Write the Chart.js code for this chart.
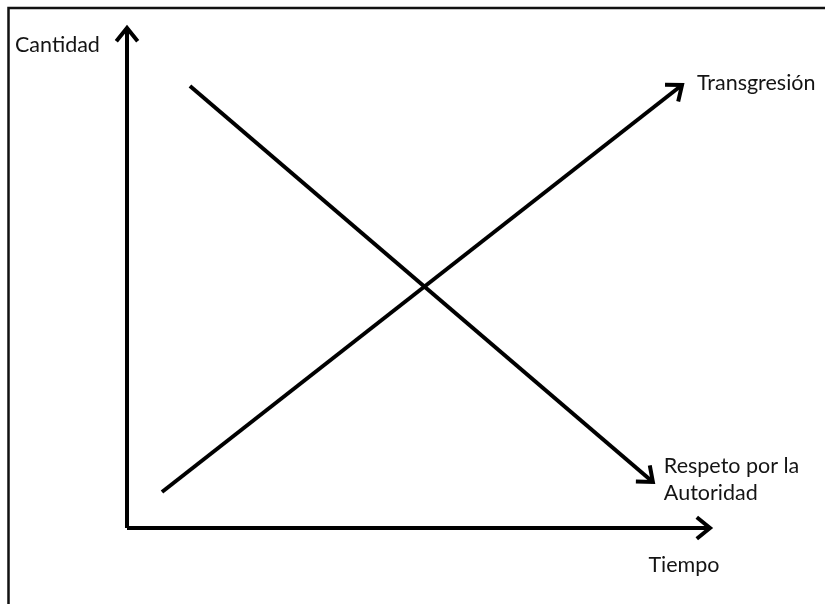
<!DOCTYPE html>
<html>
<head>
<meta charset="utf-8">
<script src="https://cdn.jsdelivr.net/npm/chart.js@4"></script>
<style>
html,body{margin:0;padding:0;background:#fff;}
#wrap{position:relative;width:825px;height:604px;}
</style>
</head>
<body>
<div id="wrap"><canvas id="c" width="825" height="604"></canvas></div>
<script>
// ---- data (conceptual values) ----
const axisTitleY = 'Cantidad';
const axisTitleX = 'Tiempo';
const seriesNames = ['Transgresión', 'Respeto por la Autoridad'];
const seriesLabelLines = [['Transgresión'], ['Respeto por la', 'Autoridad']];
const transgresionX = [6.0, 95.2];
const transgresionY = [7.2, 88.6];
const respetoX = [10.8, 90.2];
const respetoY = [88.4, 9.2];
const xAxisX = [0, 100];
const xAxisY = [0, 0];
const yAxisX = [0, 0];
const yAxisY = [0, 100];

function pts(xs, ys){ return xs.map((x,i)=>({x:x, y:ys[i]})); }

const lineStyle = {showLine:true, borderColor:'#000', borderWidth:4, pointRadius:0, pointHoverRadius:0, fill:false, clip:false, borderCapStyle:'butt'};

const arrowPlugin = {
  id:'arrows',
  beforeDraw(chart){
    const ctx = chart.ctx;
    ctx.save();
    ctx.fillStyle = '#fff';
    ctx.fillRect(0,0,chart.width,chart.height);
    // frame (top and left)
    ctx.strokeStyle = '#111';
    ctx.lineWidth = 2.5;
    ctx.beginPath();
    ctx.moveTo(8.5, chart.height);
    ctx.lineTo(8.5, 8);
    ctx.lineTo(chart.width, 8);
    ctx.stroke();
    ctx.restore();
  },
  afterDatasetsDraw(chart){
    const ctx = chart.ctx;
    ctx.save();
    chart.data.datasets.forEach((ds, i) => {
      const meta = chart.getDatasetMeta(i);
      const n = meta.data.length;
      const a = meta.data[n-2], b = meta.data[n-1];
      const ang = Math.atan2(b.y - a.y, b.x - a.x);
      const len = 17, spread = 0.68;
      ctx.strokeStyle = '#000';
      ctx.lineWidth = 4;
      ctx.lineJoin = 'miter';
      ctx.lineCap = 'butt';
      ctx.beginPath();
      ctx.moveTo(b.x - len*Math.cos(ang - spread), b.y - len*Math.sin(ang - spread));
      ctx.lineTo(b.x, b.y);
      ctx.lineTo(b.x - len*Math.cos(ang + spread), b.y - len*Math.sin(ang + spread));
      ctx.stroke();
    });
    // texts
    ctx.fillStyle = '#141414';
    ctx.font = '21.5px Lato, "Open Sans", sans-serif';
    ctx.textBaseline = 'alphabetic';
    ctx.textAlign = 'left';
    const xs = chart.scales.x, ys = chart.scales.y;
    // y axis title
    ctx.fillText(axisTitleY, 15, 52);
    // x axis title
    ctx.textAlign = 'center';
    ctx.fillText(axisTitleX, xs.getPixelForValue(xAxisX[1]) - 26, 572);
    ctx.textAlign = 'left';
    // series labels at arrow tips
    const t0x = xs.getPixelForValue(transgresionX[1]), t0y = ys.getPixelForValue(transgresionY[1]);
    seriesLabelLines[0].forEach((s, k) => ctx.fillText(s, t0x + 15, t0y + 5 + k*27));
    const r0x = xs.getPixelForValue(respetoX[1]), r0y = ys.getPixelForValue(respetoY[1]);
    seriesLabelLines[1].forEach((s, k) => ctx.fillText(s, r0x + 11, r0y - 9 + k*27));
    ctx.restore();
  }
};

new Chart(document.getElementById('c'), {
  type:'scatter',
  data:{
    datasets:[
      Object.assign({label:'Tiempo', data:pts(xAxisX, xAxisY)}, lineStyle),
      Object.assign({label:'Cantidad', data:pts(yAxisX, yAxisY)}, lineStyle),
      Object.assign({label:seriesNames[0], data:pts(transgresionX, transgresionY)}, lineStyle),
      Object.assign({label:seriesNames[1], data:pts(respetoX, respetoY)}, lineStyle)
    ]
  },
  options:{
    responsive:false,
    animation:false,
    devicePixelRatio:1,
    layout:{padding:{left:127, right:115, top:28, bottom:76}},
    plugins:{legend:{display:false}, tooltip:{enabled:false}, title:{display:false}},
    scales:{
      x:{type:'linear', min:0, max:100, display:false},
      y:{type:'linear', min:0, max:100, display:false}
    }
  },
  plugins:[arrowPlugin]
});
</script>
</body>
</html>
